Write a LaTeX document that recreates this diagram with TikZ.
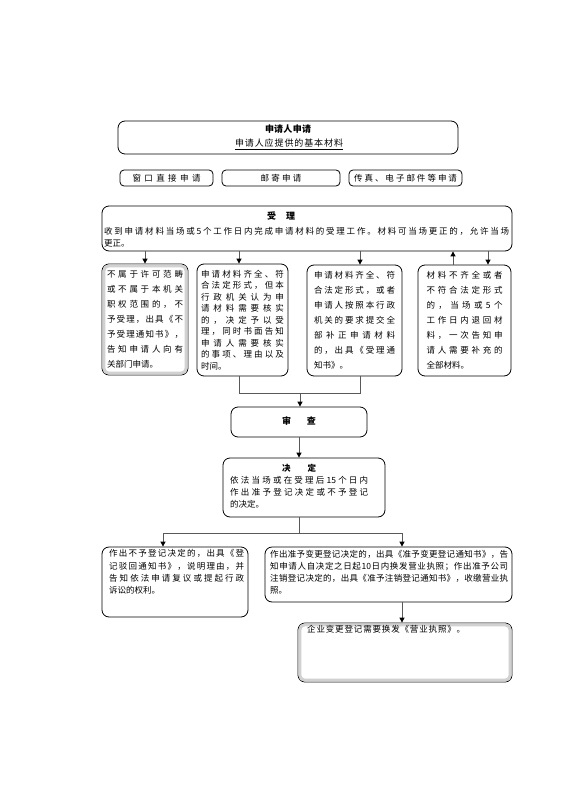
\documentclass[tikz,border=0pt]{standalone}
\usepackage{fontspec}
\setmainfont{Noto Sans CJK SC}
\usetikzlibrary{arrows.meta,backgrounds,calc}
\makeatletter
\def\spreadchars#1{\sp@read#1\@nil}
\def\sp@read#1#2\@nil{#1\ifx\relax#2\relax\else\hfil\sp@read#2\@nil\fi}
\makeatother
\newcommand\spr[2]{\hbox to #1{\spreadchars{#2}}}
\newcommand\jl[1]{\hbox to\hsize{\spreadchars{#1}}}
\newcommand\lastl[1]{\hbox{#1}}
\newcommand\para[3]{\vbox{\hsize=#1\fontsize{8.5}{#2}\selectfont #3}}
\tikzset{
  box/.style={draw=black, line width=0.8pt, rounded corners=7pt, fill=white, inner sep=0pt},
  smallbox/.style={box, rounded corners=4pt, minimum height=16pt, font=\fontsize{8.5}{10}\selectfont},
  conn/.style={draw=black!65, line width=0.9pt},
  arr/.style={conn, -{Triangle[length=5pt,width=5pt,color=black]}},
  txt/.style={inner sep=0pt},
  glow/.style={draw=black!18, line width=3pt, rounded corners=5pt},
}
\begin{document}
\begin{tikzpicture}[x=1pt,y=-1pt]
\useasboundingbox (0,0) rectangle (565,800);
\fill[white] (0,0) rectangle (565,800);

% top
\node[box, minimum width=340pt, minimum height=33pt] (top) at (288,137.5) {};
\node[txt, font=\bfseries\fontsize{9}{10}\selectfont] (toptitle) at (288,129) {\spr{46pt}{申请人申请}};
\node[txt, font=\fontsize{9}{10}\selectfont] (topsub) at (289,144.5) {\underline{\spr{108pt}{申请人应提供的基本材料}}};

% three ways
\node[smallbox, minimum width=93pt] (b1) at (166.5,178) {\spr{68pt}{窗口直接申请}};
\node[smallbox, minimum width=118pt] (b2) at (281,178) {\spr{41pt}{邮寄申请}};
\node[smallbox, minimum width=113pt] (b3) at (405.5,178) {\spr{103pt}{传真、电子邮件等申请}};

% accept
\node[box, minimum width=410pt, minimum height=45pt] (sl) at (307,228.5) {};
\node[txt, font=\bfseries\fontsize{9}{10}\selectfont] (sltitle) at (281,216) {受\hspace{10pt}理};
\node[txt, anchor=north west] (slbody) at (104,227.5) {\para{405pt}{11.5pt}{%
 \jl{收到申请材料当场或5个工作日内完成申请材料的受理工作。材料可当场更正的，允许当场}%
 \lastl{更正。}}};

% four outcomes
\node[box, minimum width=86pt, minimum height=111pt] (d1) at (145,319.5) {\para{76pt}{15pt}{%
 \jl{不属于许可范畴}\jl{或不属于本机关}\jl{职权范围的，不}\jl{予受理，出具《不}%
 \jl{予受理通知书》，}\jl{告知申请人向有}\lastl{关部门申请。}}};
\draw[glow] ($(d1.north west)+(2.2,2.2)$) rectangle ($(d1.south east)+(-2.2,-2.2)$);
\node[box, minimum width=91pt, minimum height=112pt] (d2) at (242.5,320) {\para{83pt}{11.5pt}{%
 \jl{申请材料齐全、符}\jl{合法定形式，但本}\jl{行政机关认为申}\jl{请材料需要核实}%
 \jl{的，决定予以受}\jl{理，同时书面告知}\jl{申请人需要核实}\jl{的事项、理由以及}\lastl{时间。}}};
\node[box, minimum width=95pt, minimum height=111pt] (d3) at (354.5,320.5) {\para{81pt}{15pt}{%
 \jl{申请材料齐全、符}\jl{合法定形式，或者}\jl{申请人按照本行政}\jl{机关的要求提交全}%
 \jl{部补正申请材料}\jl{的，出具《受理通}\lastl{知书》。}}};
\node[box, minimum width=93pt, minimum height=111pt] (d4) at (464.5,320.5) {\para{76pt}{15pt}{%
 \jl{材料不齐全或者}\jl{不符合法定形式}\jl{的，当场或5个}\jl{工作日内退回材}%
 \jl{料，一次告知申}\jl{请人需要补充的}\lastl{全部材料。}}};

% review
\node[box, minimum width=136pt, minimum height=30pt, font=\bfseries\fontsize{9}{10}\selectfont] (e) at (299,422) {\raisebox{3pt}{审\hspace{16pt}查}};

% decision
\node[box, minimum width=162pt, minimum height=59pt] (f) at (304,487.5) {};
\node[txt, anchor=north west] (ftext) at (230,463.5) {\para{138pt}{12.3pt}{%
 \hbox to\hsize{\hfil\bfseries 决\hspace{17pt}定\hfil}%
 \jl{依法当场或在受理后{15}个日内}\jl{作出准予登记决定或不予登记}\lastl{的决定。}}};

% results
\node[box, minimum width=146pt, minimum height=70pt] (g1) at (175,582) {};
\node[txt, anchor=north west] (g1text) at (109,549.5) {\para{135pt}{12.3pt}{%
 \jl{作出不予登记决定的，出具《登}\jl{记驳回通知书》，说明理由，并}%
 \jl{告知依法申请复议或提起行政}\lastl{诉讼的权利。}}};
\node[box, minimum width=247pt, minimum height=55pt] (g2) at (388.5,574.5) {};
\node[txt, anchor=north west] (g2text) at (270,550.5) {\para{238pt}{11.8pt}{%
 \jl{作出准予变更登记决定的，出具《准予变更登记通知书》，告}%
 \jl{知申请人自决定之日起{10}日内换发营业执照；作出准予公司}%
 \jl{注销登记决定的，出具《准予注销登记通知书》，收缴营业执}\lastl{照。}}};
\node[box, minimum width=214pt, minimum height=59pt] (h) at (405,652.5) {};
\draw[glow] ($(h.north west)+(2.2,2.2)$) rectangle ($(h.south east)+(-2.2,-2.2)$);
\node[txt, anchor=north west, font=\fontsize{8.5}{11}\selectfont] (htext) at (307,625.5) {\spr{158pt}{企业变更登记需要换发《营业执照》。}};

% helper coordinates
\coordinate (vx) at (282,0);
\coordinate (x2) at (239,0);
\coordinate (x3) at (360,0);
\coordinate (x4u) at (453,0);
\coordinate (x4d) at (488,0);
\coordinate (mj) at (300,393);
\coordinate (fj) at (299,533);
\coordinate (xg1) at (163,0);
\coordinate (xg2) at (402,0);
\coordinate (brl) at (162,162);
\coordinate (brr) at (393,192);

\begin{pgfonlayer}{background}
\draw[black, line width=0.7pt] (brl) rectangle (brr);
\draw[arr] (top.south -| vx) -- (sl.north -| vx);
\end{pgfonlayer}

\draw[arr] (sl.south -| d1.north) -- (d1.north);
\draw[arr] (sl.south -| x2) -- (d2.north -| x2);
\draw[arr] (sl.south -| x3) -- (d3.north -| x3);
\draw[arr] (d4.north -| x4u) -- (sl.south -| x4u);
\draw[arr] (sl.south -| x4d) -- (d4.north -| x4d);
\draw[conn] (d2.south -| x2) -- (x2 |- mj) -- (x3 |- mj) -- (d3.south -| x3);
\draw[arr] (mj) -- (e.north -| mj);
\draw[arr] (e.south) -- (f.north -| e.south);
\draw[conn] (f.south -| fj) -- (fj);
\draw[arr] (fj) -| (g1.north -| xg1);
\draw[arr] (fj) -| (g2.north -| xg2);
\draw[arr] (g2.south -| xg2) -- (h.north -| xg2);
\end{tikzpicture}
\end{document}
